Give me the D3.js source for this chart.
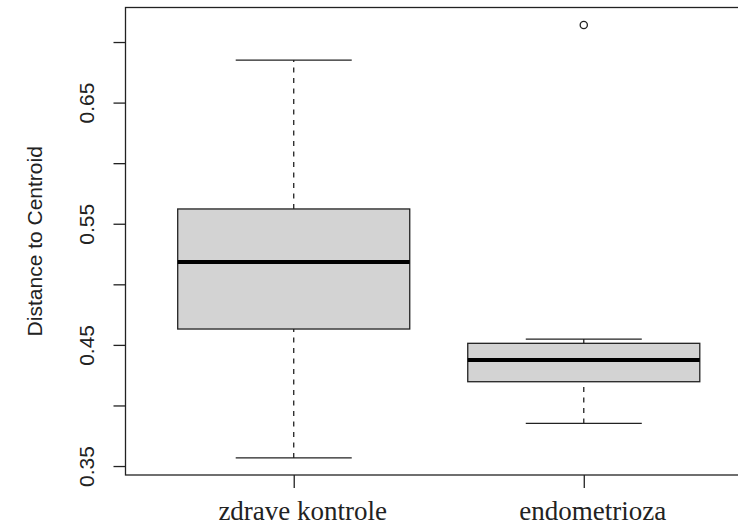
<!DOCTYPE html>
<html>
<head>
<meta charset="utf-8">
<script src="https://cdn.jsdelivr.net/npm/d3@7/dist/d3.min.js"></script>
<style>
  html, body { margin: 0; padding: 0; background: #fff; }
  svg { display: block; }
</style>
</head>
<body>
<svg id="chart" width="738" height="528"></svg>
<script>
// ---- data ----
const categories = ["zdrave kontrole", "endometrioza"];
const lowerWhisker = [0.3567, 0.3852];
const q1 = [0.4631, 0.4196];
const medians = [0.5184, 0.4375];
const q3 = [0.5622, 0.4513];
const upperWhisker = [0.6851, 0.4548];
const outliers = [[], [0.7140]];
const yTicks = [0.35, 0.40, 0.45, 0.50, 0.55, 0.60, 0.65, 0.70];
const yTickLabels = ["0.35", "", "0.45", "", "0.55", "", "0.65", ""];
const yTitle = "Distance to Centroid";

// ---- layout ----
const svg = d3.select("#chart");
const plot = { left: 125.5, right: 752, top: 7.5, bottom: 475 };
const ink = "#222";

const y = d3.scaleLinear().domain([0.3426, 0.7285]).range([plot.bottom, plot.top]);
const x = d3.scaleLinear().domain([0.42, categories.length + 0.58]).range([plot.left, plot.right]);
const boxW = 0.8, capW = 0.4;

const boxes = categories.map((c, i) => ({
  cat: c, pos: i + 1,
  lw: lowerWhisker[i], q1: q1[i], med: medians[i], q3: q3[i], uw: upperWhisker[i],
  out: outliers[i]
}));

const g = svg.append("g");

// whiskers (dashed)
g.selectAll(".whiskLo").data(boxes).join("line")
  .attr("x1", d => x(d.pos)).attr("x2", d => x(d.pos))
  .attr("y1", d => y(d.lw)).attr("y2", d => y(d.q1))
  .attr("stroke", ink).attr("stroke-width", 1.3).attr("stroke-dasharray", "5,5.5");
g.selectAll(".whiskHi").data(boxes).join("line")
  .attr("x1", d => x(d.pos)).attr("x2", d => x(d.pos))
  .attr("y1", d => y(d.q3)).attr("y2", d => y(d.uw))
  .attr("stroke", ink).attr("stroke-width", 1.3).attr("stroke-dasharray", "5,5.5");

// caps
["lw", "uw"].forEach(k => {
  g.selectAll(".cap" + k).data(boxes).join("line")
    .attr("x1", d => x(d.pos - capW / 2)).attr("x2", d => x(d.pos + capW / 2))
    .attr("y1", d => y(d[k])).attr("y2", d => y(d[k]))
    .attr("stroke", ink).attr("stroke-width", 1.3);
});

// boxes
g.selectAll(".box").data(boxes).join("rect")
  .attr("x", d => x(d.pos - boxW / 2))
  .attr("width", d => x(d.pos + boxW / 2) - x(d.pos - boxW / 2))
  .attr("y", d => y(d.q3))
  .attr("height", d => y(d.q1) - y(d.q3))
  .attr("fill", "#d3d3d3").attr("stroke", ink).attr("stroke-width", 1.3);

// medians
g.selectAll(".med").data(boxes).join("line")
  .attr("x1", d => x(d.pos - boxW / 2)).attr("x2", d => x(d.pos + boxW / 2))
  .attr("y1", d => y(d.med)).attr("y2", d => y(d.med))
  .attr("stroke", "#000").attr("stroke-width", 4);

// outliers
const outPts = boxes.flatMap(d => d.out.map(v => ({ pos: d.pos, v })));
g.selectAll(".out").data(outPts).join("circle")
  .attr("cx", d => x(d.pos)).attr("cy", d => y(d.v)).attr("r", 3.6)
  .attr("fill", "none").attr("stroke", ink).attr("stroke-width", 1.3);

// plot frame
svg.append("rect")
  .attr("x", plot.left).attr("y", plot.top)
  .attr("width", plot.right - plot.left).attr("height", plot.bottom - plot.top)
  .attr("fill", "none").attr("stroke", ink).attr("stroke-width", 1.3);

// y axis
const yAxis = d3.axisLeft(y).tickValues(yTicks).tickSize(12).tickPadding(0)
  .tickFormat((d, i) => yTickLabels[i]);
const ya = svg.append("g").attr("transform", `translate(${plot.left},0)`).call(yAxis);
ya.select(".domain").remove();
ya.selectAll(".tick line").attr("stroke", ink).attr("stroke-width", 1.3);
ya.selectAll(".tick text")
  .attr("x", null).attr("dy", null)
  .attr("transform", "translate(-32,0) rotate(-90)")
  .attr("text-anchor", "middle")
  .attr("fill", ink)
  .style("font-family", "'Liberation Sans', Arial, sans-serif")
  .style("font-size", "21px");

// x axis
const xa = svg.append("g").attr("transform", `translate(0,${plot.bottom})`)
  .call(d3.axisBottom(x).tickValues(boxes.map(d => d.pos)).tickSize(13).tickFormat(""));
xa.select(".domain").remove();
xa.selectAll(".tick line").attr("stroke", ink).attr("stroke-width", 1.3);

svg.append("g").selectAll("text").data(boxes).join("text")
  .attr("x", d => x(d.pos) + 9).attr("y", 520)
  .attr("text-anchor", "middle")
  .attr("fill", ink)
  .style("font-family", "'Liberation Serif', 'Times New Roman', serif")
  .style("font-size", "27px")
  .text(d => d.cat);

// y title
svg.append("text")
  .attr("transform", `translate(42,${(plot.top + plot.bottom) / 2}) rotate(-90)`)
  .attr("text-anchor", "middle")
  .attr("fill", ink)
  .style("font-family", "'Liberation Sans', Arial, sans-serif")
  .style("font-size", "21px")
  .text(yTitle);
</script>
</body>
</html>
